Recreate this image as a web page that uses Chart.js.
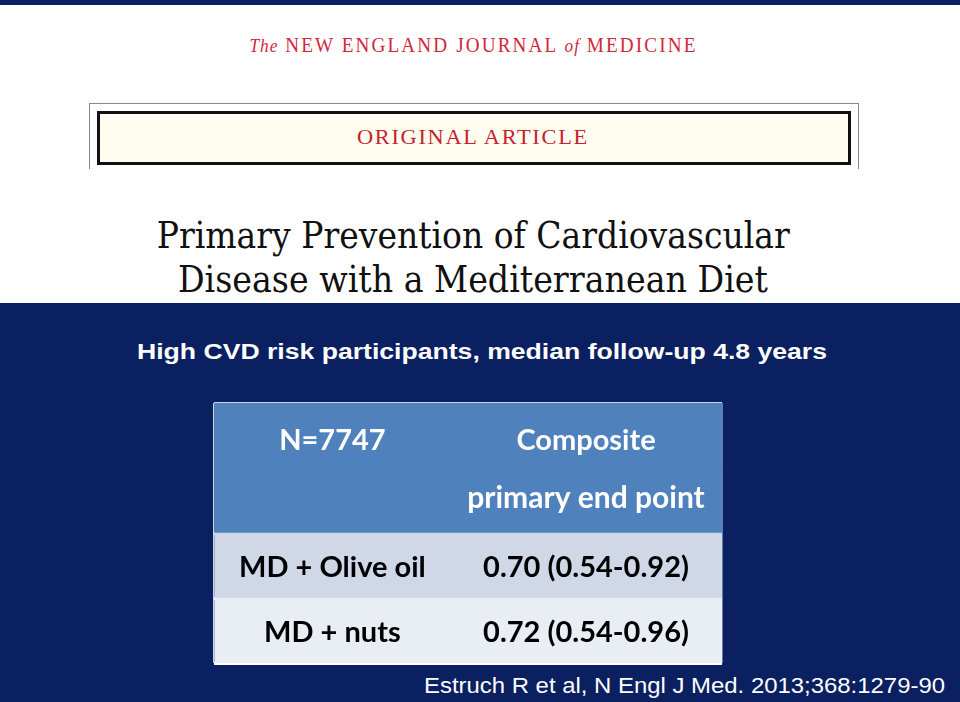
<!DOCTYPE html>
<html>
<head>
<meta charset="utf-8">
<script src="https://cdn.jsdelivr.net/npm/chart.js@4.4.1/dist/chart.umd.min.js"></script>
<style>
  html, body { margin:0; padding:0; }
  body { width:960px; height:702px; position:relative; overflow:hidden; background:#ffffff; font-family:"Liberation Sans", Arial, sans-serif; }
  .abs { position:absolute; white-space:nowrap; }
  .ctr { left:-7px; width:960px; text-align:center; }
  #topstrip { left:0; top:0; width:960px; height:5px; background:#0a2060; }
  #nejm { top:34px; font-family:"Liberation Serif", serif; font-size:20px; letter-spacing:2.2px; color:#d0283a; }
  #nejm i { letter-spacing:1px; font-size:18px; }
  #outerbox { left:89px; top:103px; width:770px; height:66px; border:1px solid #888; border-bottom:none; box-sizing:border-box; }
  #innerbox { left:97px; top:111px; width:754px; height:54px; border:3px solid #111; background:#fffdf0; box-sizing:border-box; }
  #orig { top:125px; font-family:"Liberation Serif", serif; font-size:21px; letter-spacing:1.6px; color:#c8202e; }
  .title { font-family:"DejaVu Serif", serif; font-size:38px; color:#111; }
  #navy { left:0; top:303px; width:960px; height:399px; background:#0a2060; }
  #sub { left:137px; top:339px; font-family:"Liberation Sans", Arial, sans-serif; font-weight:bold; font-size:22px; color:#fff; }
  #cite { left:424px; top:673px; font-family:"Liberation Sans", Arial, sans-serif; font-size:22px; color:#fff; }
  #sub span, #cite span { transform-origin: left center; }
  #tbl { left:212px; top:401px; }
</style>
</head>
<body>
<div class="abs" id="topstrip"></div>
<div class="abs ctr" id="nejm" data-w="448"><i>The</i> NEW ENGLAND JOURNAL <i>of</i> MEDICINE</div>
<div class="abs" id="outerbox"></div>
<div class="abs" id="innerbox"></div>
<div class="abs ctr" id="orig" data-w="232">ORIGINAL ARTICLE</div>
<div class="abs ctr title" style="top:213px" data-w="633">Primary Prevention of Cardiovascular</div>
<div class="abs ctr title" style="top:257px" data-w="590">Disease with a Mediterranean Diet</div>
<div class="abs" id="navy"></div>
<div class="abs" id="sub" data-w="690">High CVD risk participants, median follow-up 4.8 years</div>
<div class="abs" id="cite" data-w="521">Estruch R et al, N Engl J Med. 2013;368:1279-90</div>
<canvas class="abs" id="tbl" width="512" height="264"></canvas>
<script>
// ---- data ----
const sampleSize = "N=7747";
const endpointHeader = ["Composite", "primary end point"];
const groups = ["MD + Olive oil", "MD + nuts"];
const hazardRatios = [0.70, 0.72];
const ciLower = [0.54, 0.54];
const ciUpper = [0.92, 0.96];

// fit text widths
document.querySelectorAll('[data-w]').forEach(el => {
  const target = +el.dataset.w;
  const span = document.createElement('span');
  span.innerHTML = el.innerHTML; span.style.whiteSpace = 'nowrap';
  el.innerHTML = ''; el.appendChild(span);
  span.style.display = 'inline-block';
  const w = span.getBoundingClientRect().width;
  span.style.transform = 'scaleX(' + (target / w) + ')';
});

// ---- table as chart ----
const COL_SPLIT = 0.4646;
const HEADER_BG = '#4f81bd', ROW_BG = ['#d0d8e8', '#e9edf4'];
const slots = ['hdr1', 'hdr2'].concat(groups);
const slotBg = [HEADER_BG, HEADER_BG].concat(ROW_BG);
const fmt = v => v.toFixed(2);
const col1Text = [sampleSize, ''].concat(groups);
const col2Text = endpointHeader.concat(groups.map((g, i) => fmt(hazardRatios[i]) + ' (' + fmt(ciLower[i]) + '-' + fmt(ciUpper[i]) + ')'));
const textDy = [5, -2, 2, 2];

const cellText = {
  id: 'cellText',
  afterDatasetsDraw(chart) {
    const ctx = chart.ctx;
    ctx.save();
    ctx.textAlign = 'center';
    ctx.textBaseline = 'middle';
    [col1Text, col2Text].forEach((texts, di) => {
      chart.getDatasetMeta(di).data.forEach((el, i) => {
        const t = texts[i];
        if (!t) return;
        ctx.font = 'bold ' + (i === 1 ? 30 : 29) + 'px Lato, "Open Sans", sans-serif';
        ctx.fillStyle = i < 2 ? '#ffffff' : '#000000';
        ctx.fillText(t, (el.x + el.base) / 2, el.y + textDy[i]);
      });
    });
    ctx.restore();
  }
};

new Chart(document.getElementById('tbl'), {
  type: 'bar',
  data: {
    labels: slots,
    datasets: [
      { label: 'col1', data: slots.map(() => [0, COL_SPLIT]), backgroundColor: slotBg, grouped: false, borderWidth: 0 },
      { label: 'col2', data: slots.map(() => [COL_SPLIT, 1]), backgroundColor: slotBg, grouped: false, borderWidth: 0 }
    ]
  },
  options: {
    indexAxis: 'y',
    responsive: false,
    animation: false,
    devicePixelRatio: 1,
    layout: { padding: 2 },
    barPercentage: 1,
    categoryPercentage: 1,
    plugins: { legend: { display: false }, tooltip: { enabled: false } },
    scales: {
      x: {
        type: 'linear', min: 0, max: 1, z: 1,
        afterBuildTicks: s => { s.ticks = [{ value: 0 }, { value: COL_SPLIT }, { value: 1 }]; },
        ticks: { display: false },
        border: { display: false },
        grid: { color: ctx => ctx.index === 1 ? '#ffffff' : '#c9d3e6', lineWidth: ctx => ctx.index === 1 ? 2 : 1.5, drawTicks: false }
      },
      y: {
        type: 'category', offset: true, z: 1,
        ticks: { display: false },
        border: { display: false },
        grid: { offset: true, drawTicks: false,
          color: ctx => (ctx.index === 1 ? 'rgba(0,0,0,0)' : (ctx.index === 0 || ctx.index === slots.length) ? '#c9d3e6' : '#ffffff'),
          lineWidth: ctx => (ctx.index === 0 || ctx.index === slots.length) ? 1.5 : 3 }
      }
    }
  },
  plugins: [cellText]
});
</script>
</body>
</html>
